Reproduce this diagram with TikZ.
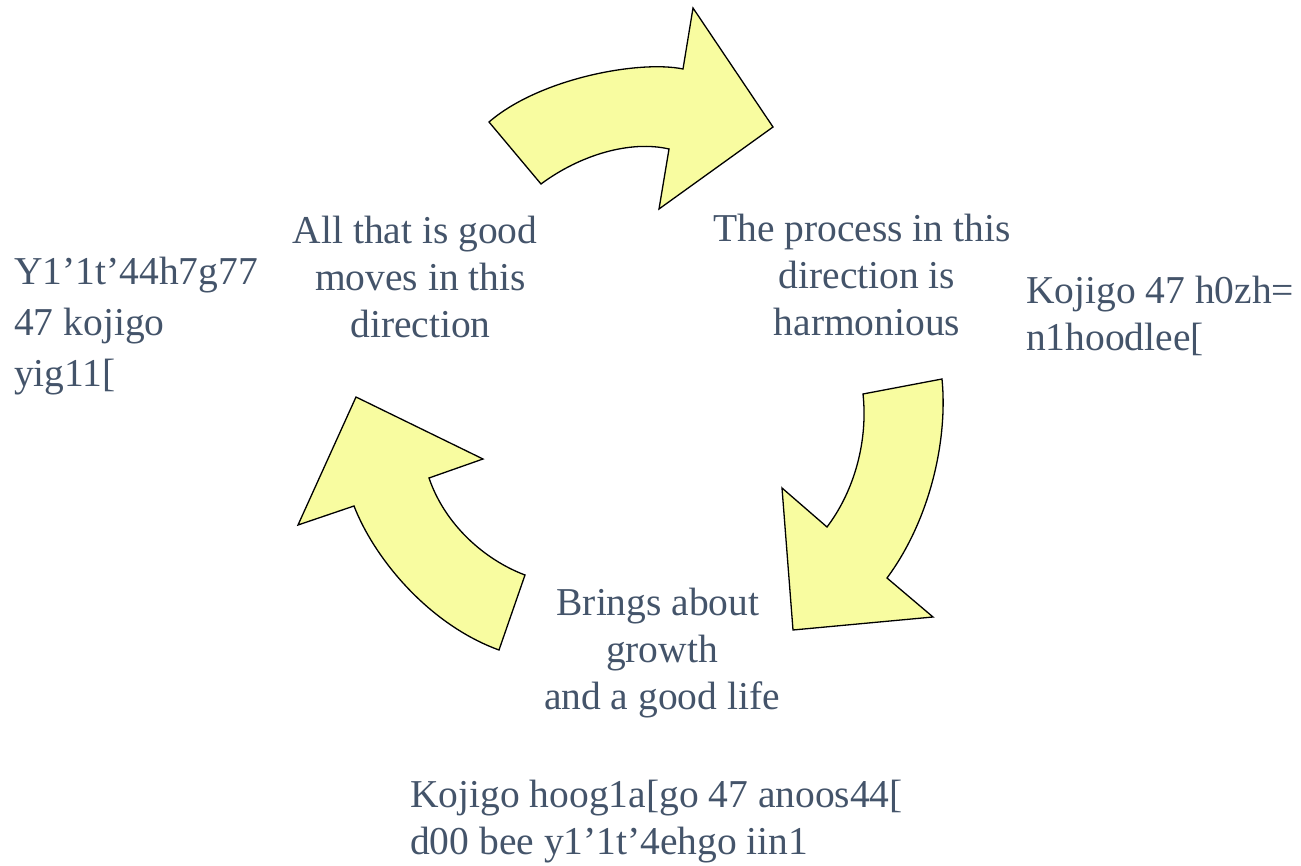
\documentclass[tikz,border=0pt]{standalone}
\usepackage{fontspec}
\setmainfont{Liberation Serif}
\definecolor{txt}{HTML}{44546A}
\definecolor{arrowfill}{HTML}{F8FCA0}
\begin{document}
\begin{tikzpicture}[x=1pt,y=-1pt,
  cyclearrow/.style={fill=arrowfill,draw=black,line width=1.3pt,line join=miter},
  lbl/.style={text=txt,inner sep=0pt,font=\fontsize{39.5}{47}\selectfont}]
\useasboundingbox (0,0) rectangle (1301,866);
% top arrow
\draw[cyclearrow] (489,122) -- (541,184)
  .. controls (580,155) and (630,140) .. (669,149)
  -- (659,209) -- (773,127) -- (693,8) -- (683,69)
  .. controls (640,60) and (540,78) .. (489,122) -- cycle;
% right arrow
\draw[cyclearrow] (863,394) -- (942,379)
  .. controls (948,440) and (930,520) .. (887,578)
  -- (933,617) -- (793,630) -- (782,488) -- (827,527)
  .. controls (855,490) and (868,440) .. (863,394) -- cycle;
% left arrow
\draw[cyclearrow] (356,397) -- (483,459) -- (429,478)
  .. controls (445,525) and (485,560) .. (525,575)
  -- (499,650)
  .. controls (430,625) and (375,560) .. (354,506)
  -- (298,525) -- cycle;
% labels
\node[lbl,align=center] (good) at (415,277) {All that is good\\\rule{11pt}{0pt}moves in this\\\rule{11pt}{0pt}direction};
\node[lbl,align=center] (process) at (862,275) {The process in this\\\rule{10pt}{0pt}direction is\\\rule{10pt}{0pt}harmonious};
\node[lbl,align=center] (growth) at (662,653) {Brings about\rule{8pt}{0pt}\\growth\\and a good life};
\node[lbl,align=left,anchor=west,font=\fontsize{39.5}{51}\selectfont] (leftt) at (14,326) {Y1’1t’44h7g77\\47 kojigo\\yig11[};
\node[lbl,align=left,anchor=west] (rightt) at (1026,316) {Kojigo 47 h0zh=\\n1hoodlee[};
\node[lbl,align=left,anchor=west] (bottomt) at (410,822) {Kojigo hoog1a[go 47 anoos44[\\d00 bee y1’1t’4ehgo iin1};
\end{tikzpicture}
\end{document}
